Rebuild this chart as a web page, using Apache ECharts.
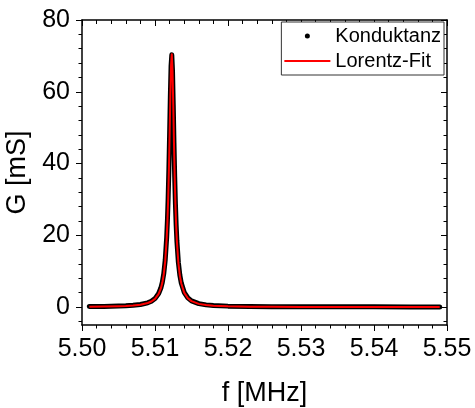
<!DOCTYPE html>
<html>
<head>
<meta charset="utf-8">
<script src="https://cdn.jsdelivr.net/npm/echarts@6/dist/echarts.min.js"></script>
<style>
  html, body { margin: 0; padding: 0; background: #fff; }
  #chart { width: 475px; height: 408px; }
</style>
</head>
<body>
<div id="chart"></div>
<script>
// Frequency sweep around the resonance (MHz)
const freq = [
  5.5010, 5.5030, 5.5050, 5.5060, 5.5070, 5.5080, 5.5090, 5.5095, 5.5100, 5.5105,
  5.5108, 5.5110, 5.5112, 5.5114, 5.5116, 5.5117, 5.5118, 5.5119, 5.5120, 5.5121,
  5.5122, 5.5123, 5.5124, 5.5125, 5.5126, 5.5127, 5.5128, 5.5129, 5.5130, 5.5132,
  5.5134, 5.5136, 5.5140, 5.5145, 5.5150, 5.5160, 5.5170, 5.5180, 5.5200, 5.5230,
  5.5260, 5.5300, 5.5350, 5.5400, 5.5450, 5.5490
];
// Measured conductance G (mS)
const conductance = [
  0.15, 0.19, 0.27, 0.35, 0.48, 0.71, 1.18, 1.62, 2.36, 3.77,
  5.30, 6.90, 9.30, 13.1, 19.4, 24.1, 30.3, 38.3, 48.0, 58.6,
  67.2, 70.3, 65.8, 56.3, 45.7, 36.2, 28.6, 22.8, 18.4, 12.5,
  8.95, 6.68, 4.10, 2.55, 1.72, 0.95, 0.61, 0.43, 0.26, 0.16,
  0.12, 0.09, 0.07, 0.06, 0.05, 0.05
];
// Lorentz fit evaluated at the same frequencies (mS)
const lorentzFit = [
  0.10, 0.14, 0.23, 0.31, 0.44, 0.67, 1.13, 1.56, 2.29, 3.68,
  5.19, 6.76, 9.11, 12.84, 19.06, 23.71, 29.86, 37.86, 47.74, 58.52,
  67.41, 70.46, 65.97, 56.40, 45.64, 36.10, 28.49, 22.67, 18.27, 12.38,
  8.83, 6.57, 4.01, 2.46, 1.65, 0.89, 0.56, 0.38, 0.21, 0.11,
  0.07, 0.04, 0.02, 0.02, 0.01, 0.01
];
// Axis ticks
const yTicks = [0, 20, 40, 60, 80];
const yMinorTicks = [-4, 4, 8, 12, 16, 24, 28, 32, 36, 44, 48, 52, 56, 64, 68, 72, 76];
const xMin = 5.50, xMax = 5.55, xStep = 0.01;
const yMin = -5, yMax = 80;

const FONT = "'Liberation Sans', Arial, sans-serif";
const AX = { color: '#000', width: 1.5 };

const pairs = (ys) => freq.map((f, i) => [f, ys[i]]);

const chart = echarts.init(document.getElementById('chart'), null, { renderer: 'canvas' });

const xBase = {
  type: 'value', min: xMin, max: xMax, interval: xStep,
  splitLine: { show: false },
  axisLine: { show: true, onZero: false, lineStyle: AX },
  minorTick: { show: true, splitNumber: 5, length: 3.5, lineStyle: { color: '#000', width: 1 } },
  minorSplitLine: { show: false }
};

const yBase = (pos) => ({
  type: 'value', min: yMin, max: yMax, position: pos,
  splitLine: { show: false },
  axisLine: { show: false }
});

chart.setOption({
  animation: false,
  backgroundColor: '#fff',
  textStyle: { fontFamily: FONT },
  grid: { left: 82, right: 28, top: 20, bottom: 83, containLabel: false, outerBoundsMode: 'none' },
  legend: {
    orient: 'vertical',
    right: 31, top: 22,
    align: 'left',
    padding: [4, 3, 4, 2],
    itemGap: 5,
    itemWidth: 46, itemHeight: 5,
    borderColor: '#333', borderWidth: 1,
    backgroundColor: '#fff',
    textStyle: { fontSize: 20, color: '#000', fontFamily: FONT, lineHeight: 20 },
    data: [
      { name: 'Konduktanz', icon: 'circle' },
      { name: 'Lorentz-Fit', itemStyle: { opacity: 0 } }
    ]
  },
  xAxis: [
    Object.assign({}, xBase, {
      position: 'bottom',
      axisTick: { show: true, inside: false, length: 6, lineStyle: { color: '#000', width: 1 } },
      axisLabel: {
        show: true, margin: 12, fontSize: 25, color: '#000', fontFamily: FONT,
        formatter: (v) => v.toFixed(2)
      },
      name: 'f [MHz]', nameLocation: 'middle', nameGap: 55,
      nameTextStyle: { fontSize: 27, color: '#000', fontFamily: FONT }
    }),
    Object.assign({}, xBase, {
      position: 'top',
      axisTick: { show: true, inside: true, length: 6, lineStyle: { color: '#000', width: 1 } },
      minorTick: { show: true, splitNumber: 5, length: 4, lineStyle: { color: '#000', width: 1 } },
      axisLabel: { show: false }
    })
  ],
  yAxis: [
    Object.assign(yBase('left'), {
      axisLine: { show: true, onZero: false, lineStyle: AX },
      axisTick: { show: true, inside: false, length: 6, customValues: yTicks, lineStyle: { color: '#000', width: 1 } },
      axisLabel: { show: true, margin: 12, fontSize: 25, color: '#000', fontFamily: FONT, customValues: yTicks },
      name: 'G [mS]', nameLocation: 'middle', nameGap: 39, nameRotate: 90,
      nameTextStyle: { fontSize: 27, color: '#000', fontFamily: FONT }
    }),
    Object.assign(yBase('left'), {
      axisTick: { show: true, inside: false, length: 3.5, customValues: yMinorTicks, lineStyle: { color: '#000', width: 1 } },
      axisLabel: { show: false }
    }),
    Object.assign(yBase('right'), {
      axisLine: { show: true, onZero: false, lineStyle: AX },
      axisTick: { show: true, inside: true, length: 6, customValues: yTicks, lineStyle: { color: '#000', width: 1 } },
      axisLabel: { show: false }
    }),
    Object.assign(yBase('right'), {
      axisTick: { show: true, inside: true, length: 3.5, customValues: yMinorTicks, lineStyle: { color: '#000', width: 1 } },
      axisLabel: { show: false }
    })
  ],
  series: [
    {
      name: 'Konduktanz', type: 'line',
      xAxisIndex: 0, yAxisIndex: 0,
      data: pairs(conductance),
      showSymbol: false, symbol: 'none',
      itemStyle: { color: '#000' },
      lineStyle: { color: '#000', width: 5, cap: 'round', join: 'round' },
      z: 2
    },
    {
      name: 'Lorentz-Fit', type: 'line',
      xAxisIndex: 0, yAxisIndex: 0,
      data: pairs(lorentzFit),
      showSymbol: false, symbol: 'none',
      itemStyle: { color: '#ff0000' },
      lineStyle: { color: '#ff0000', width: 2, join: 'round' },
      z: 3
    }
  ]
});
</script>
</body>
</html>
